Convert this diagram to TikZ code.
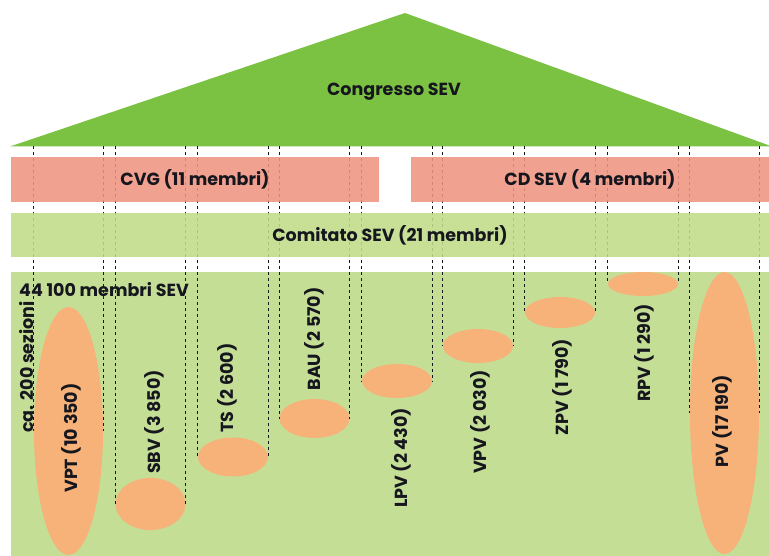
\documentclass[tikz,border=0pt]{standalone}
\usepackage{fontspec}
\setmainfont{Poppins}
\usetikzlibrary{shapes.geometric,calc}

\definecolor{congr}{RGB}{124,194,66}
\definecolor{redbar}{RGB}{240,148,128}
\definecolor{ltgreen}{RGB}{192,220,136}
\definecolor{basegreen}{RGB}{197,222,150}
\definecolor{orgfill}{RGB}{246,178,121}
\definecolor{ink}{RGB}{22,22,30}

\begin{document}
\begin{tikzpicture}
    [
      x=1pt, y=-1pt,
      txt/.style = {font=\bfseries\fontsize{17.5}{20}\selectfont, text=ink},
      bar/.style = {fill=#1, fill opacity=0.88, text opacity=1, inner sep=0pt, txt},
      section/.style = {ellipse, fill=orgfill, inner sep=0pt, minimum width=70},
      vlabel/.style = {txt, rotate=90, inner sep=0pt},
      dashline/.style = {ink, line width=0.9pt, dash pattern=on 3pt off 3pt},
    ]
    \clip (0,0) rectangle (769,556);
    \fill[white] (0,0) rectangle (769,556);

    % base and roof
    \fill[basegreen] (11,272) rectangle (769,556);
    \fill[congr] (10,146.5) -- (405,13) -- (772,146.5) -- cycle;
    \node[txt] (congresso) at (394,92) {Congresso SEV};
    \coordinate (roof) at (0,146.5);

    % sections
    \node[section, minimum width=69, minimum height=248] (vpt) at (68.5,431) {};
    \node[section, minimum height=52] (sbv) at (150.5,504) {};
    \node[section, minimum height=39] (ts)  at (233,457) {};
    \node[section, minimum height=39] (bau) at (314.5,418.5) {};
    \node[section, minimum height=34] (lpv) at (397,381) {};
    \node[section, minimum height=34] (vpv) at (478,346) {};
    \node[section, minimum height=31] (zpv) at (560,312.5) {};
    \node[section, minimum height=24] (rpv) at (643,284) {};
    \node[section, minimum width=69, minimum height=282] (pv) at (724.5,413) {};

    \foreach \s in {vpt,sbv,ts,bau,lpv,vpv,zpv,rpv,pv}
      \draw[dashline] (\s.west |- roof) -- (\s.west)
                      (\s.east |- roof) -- (\s.east);

    % organs
    \node[bar=redbar, minimum width=368, minimum height=45] (cvg) at (195,179.5) {CVG (11 membri)};
    \node[bar=redbar, minimum width=358, minimum height=45] (cdsev) at (590,179.5) {CD SEV (4 membri)};
    \node[bar=ltgreen, minimum width=758, minimum height=44] (comitato) at (390,235) {Comitato SEV (21 membri)};

    % labels
    \node[txt, inner sep=0pt] (membri) at (104,290) {44 100 membri SEV};
    \node[vlabel] (sezioni) at (27,367) {ca. 200 sezioni};
    \node[vlabel] at (71,438)  {VPT (10 350)};
    \node[vlabel] at (154,422) {SBV (3 850)};
    \node[vlabel] at (227,388) {TS (2 600)};
    \node[vlabel] at (314,339) {BAU (2 570)};
    \node[vlabel] at (401,458) {LPV (2 430)};
    \node[vlabel] at (480,422) {VPV (2 030)};
    \node[vlabel] at (562,387) {ZPV (1 790)};
    \node[vlabel] at (644,353) {RPV (1 290)};
    \node[vlabel] at (722,421) {PV (17 190)};
\end{tikzpicture}
\end{document}
